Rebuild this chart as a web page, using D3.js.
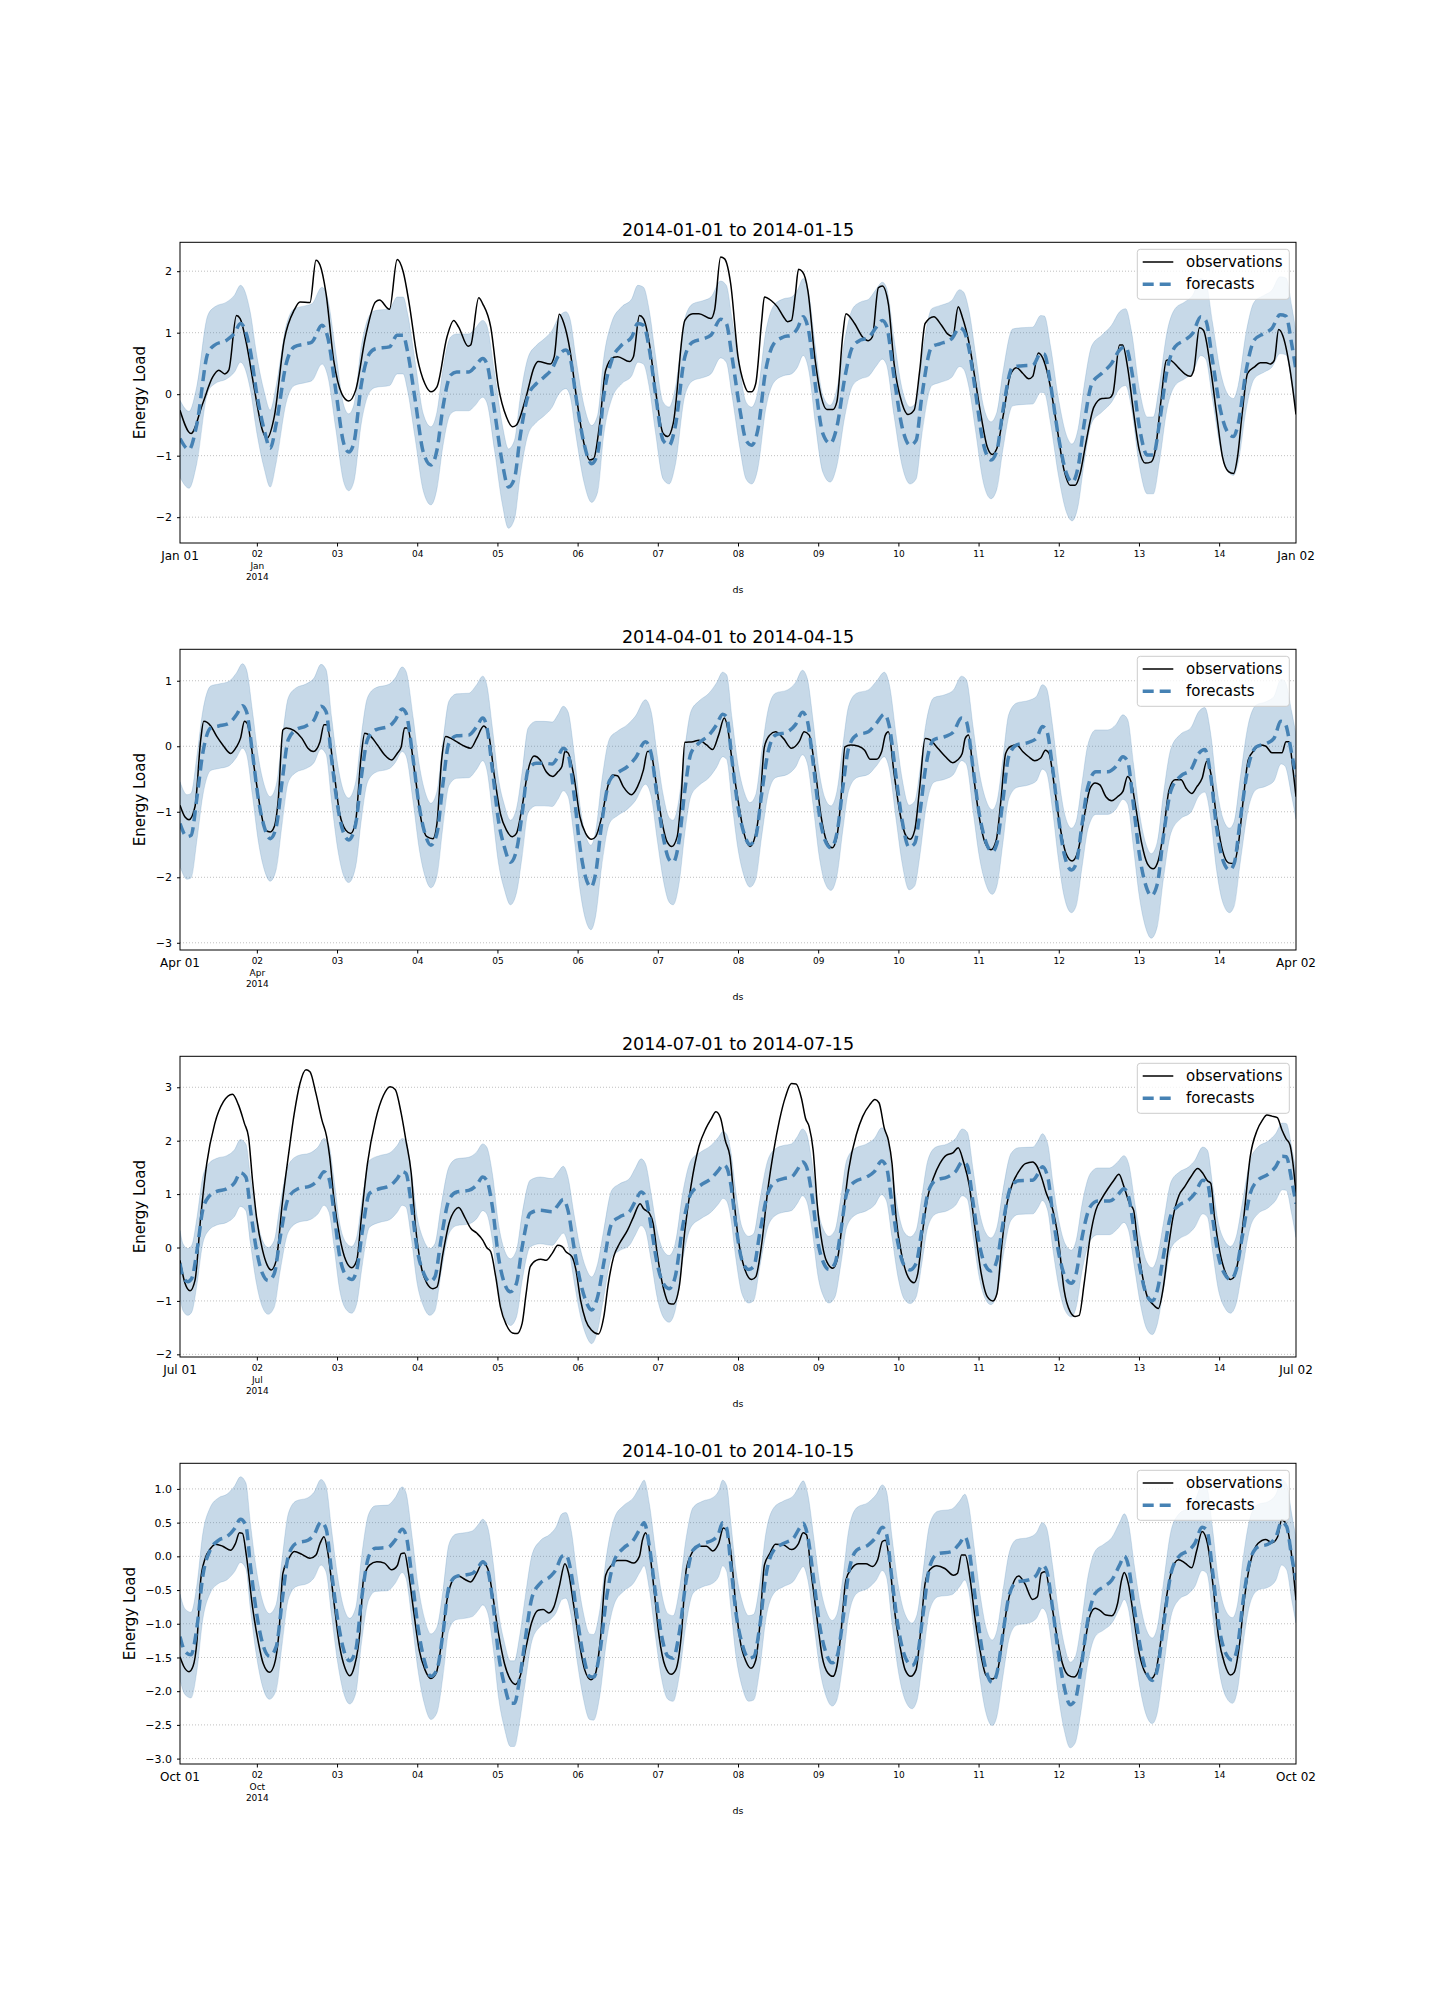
<!DOCTYPE html>
<html>
<head>
<meta charset="utf-8">
<script src="https://cdn.jsdelivr.net/npm/d3@7"></script>
<style>
  body { margin: 0; background: #ffffff; }
  svg { display: block; }
</style>
</head>
<body>
<svg id="chart" width="1440" height="2016"></svg>
<script>
// ---------------- DATA (hours since 00:00 on the 1st of the month) ----------------
const panelTitles = ["2014-01-01 to 2014-01-15", "2014-04-01 to 2014-04-15", "2014-07-01 to 2014-07-15", "2014-10-01 to 2014-10-15"];
const monthNames = ["Jan", "Apr", "Jul", "Oct"];
const yearLabel = "2014";
const xDomainHours = [1, 335];
const dayTickHours = [24, 48, 72, 96, 120, 144, 168, 192, 216, 240, 264, 288, 312];
const dayTickLabels = ["02", "03", "04", "05", "06", "07", "08", "09", "10", "11", "12", "13", "14"];
const legendLabels = ["observations", "forecasts"];
const yAxisLabel = "Energy Load";
const xAxisLabel = "ds";

const janYDomain = [-2.42, 2.47];
const aprYDomain = [-3.11, 1.48];
const julYDomain = [-2.05, 3.58];
const octYDomain = [-3.08, 1.38];
const janYTicks = [-2, -1, 0, 1, 2];
const aprYTicks = [-3, -2, -1, 0, 1];
const julYTicks = [-2, -1, 0, 1, 2, 3];
const octYTicks = [-3.0, -2.5, -2.0, -1.5, -1.0, -0.5, 0.0, 0.5, 1.0];

// observations: [hour, value]
const janObs = [[1,-0.26],[4.3,-0.64],[7.8,-0.15],[10.8,0.28],[12.6,0.39],[14.4,0.33],[15.6,0.39],[17.9,1.28],[19,1.23],[20.9,0.82],[23.3,0.07],[25.7,-0.59],[27,-0.72],[29.2,-0.37],[32.2,0.88],[35.2,1.37],[36.9,1.5],[39.9,1.49],[41.7,2.18],[42.9,2.1],[44.7,1.64],[47,0.55],[49.4,0.01],[51.5,-0.11],[53.6,0.07],[56.5,0.93],[59.5,1.5],[60.7,1.53],[63.7,1.38],[66,2.19],[67.8,1.99],[69.6,1.47],[72,0.6],[74.3,0.17],[76.1,0.04],[77.9,0.12],[80.9,0.93],[82.9,1.2],[84.4,1.09],[87.2,0.78],[88,0.8],[90.4,1.57],[91.6,1.47],[94,1.09],[96.3,0.12],[98.7,-0.37],[100.5,-0.53],[101.7,-0.5],[104.6,-0.04],[107,0.44],[108.2,0.53],[111.8,0.49],[113,0.61],[114.5,1.3],[115.9,1.15],[117.7,0.72],[119.5,0.01],[121.9,-0.8],[123.6,-1.07],[124.8,-1.05],[126.6,-0.48],[128.4,0.39],[130.8,0.6],[132,0.61],[135.5,0.53],[136.7,0.61],[138.5,1.28],[139.7,1.23],[141.5,0.82],[143.3,0.07],[145.6,-0.64],[147,-0.69],[148.6,-0.48],[152.1,1.2],[154.5,1.31],[156.3,1.31],[159.9,1.23],[161,1.37],[162.8,2.23],[164,2.2],[165.8,1.8],[168,0.61],[169.8,0.17],[171,0.04],[172.1,0.04],[173.3,0.17],[175.1,1.2],[175.9,1.58],[178,1.52],[179.8,1.42],[181.6,1.26],[182.8,1.18],[184,1.2],[185.2,1.64],[186.1,2.03],[187.3,1.99],[188.9,1.69],[191.1,0.55],[192.9,-0.04],[194.6,-0.25],[196.4,-0.25],[197.6,-0.12],[199.4,0.98],[200.3,1.31],[202.9,1.15],[205.3,0.93],[207,0.87],[208.2,0.93],[210,1.73],[211.2,1.76],[213,1.47],[214.7,0.5],[217.1,-0.15],[218.9,-0.33],[220.7,-0.26],[222.4,0.39],[224,1.15],[226.6,1.26],[228.9,1.12],[230.7,0.98],[232.3,0.94],[233.9,1.42],[235.1,1.26],[237.2,0.82],[239,0.23],[240.8,-0.37],[242.6,-0.86],[244.1,-0.98],[245.5,-0.88],[247.3,-0.37],[249.7,0.34],[251.4,0.43],[253.2,0.34],[255,0.25],[256.2,0.29],[257.9,0.67],[259.5,0.55],[261.5,0.12],[263.3,-0.48],[265.6,-1.24],[267.4,-1.48],[268.9,-1.48],[270.4,-1.29],[272.1,-0.8],[274.5,-0.21],[276.9,-0.07],[279.2,-0.06],[280.2,0.01],[282.2,0.8],[283.1,0.8],[284.6,0.44],[286.3,-0.26],[288.1,-0.91],[289.9,-1.12],[291.7,-1.1],[292.9,-0.91],[294.6,-0.1],[296.2,0.55],[297,0.56],[300,0.42],[301.7,0.33],[303.3,0.29],[304.4,0.39],[306.1,1.08],[307.3,1.04],[309.4,0.44],[311.2,-0.31],[313,-1.02],[314.8,-1.26],[316.3,-1.29],[317.5,-1.02],[318.9,-0.31],[320.5,0.34],[322.5,0.44],[324.3,0.51],[326.1,0.51],[327.3,0.49],[328.5,0.55],[329.8,1.05],[331,0.96],[333.1,0.44],[335,-0.33]];

const aprObs = [[1,-0.9],[2.5,-1.08],[3.7,-1.12],[5.5,-0.92],[7.2,0.1],[8.1,0.38],[10.2,0.31],[12,0.15],[13.8,0.02],[16.2,-0.11],[17.9,-0.01],[19.1,0.12],[20.3,0.38],[21.1,0.35],[23.3,-0.36],[25.1,-0.97],[26.6,-1.28],[28,-1.31],[29.2,-1.23],[30.4,-0.82],[31.8,0.25],[32.8,0.28],[35.2,0.24],[37.5,0.12],[39.3,-0.03],[40.9,-0.08],[42.9,0.07],[44.1,0.33],[44.9,0.33],[47,-0.36],[48.8,-1.03],[50.6,-1.28],[52.1,-1.33],[53.6,-1.13],[55.1,-0.21],[56.3,0.2],[57.7,0.17],[60.1,0.02],[62.2,-0.13],[64.3,-0.21],[66,-0.11],[67.2,-0.01],[68.2,0.28],[69,0.28],[71.4,-0.46],[73.2,-1.13],[74.9,-1.38],[76.7,-1.41],[77.9,-1.18],[79.3,-0.21],[80.5,0.15],[82.1,0.12],[84.4,0.05],[86.2,0],[88,-0.03],[89.8,0.12],[91.9,0.31],[93.3,0.2],[95.1,-0.46],[96.9,-1.03],[98.7,-1.28],[100.5,-1.38],[101.7,-1.33],[103.4,-0.92],[105.2,-0.36],[107,-0.15],[108.8,-0.21],[110.6,-0.39],[112.6,-0.46],[114.1,-0.39],[115.3,-0.31],[116.2,-0.08],[117.1,-0.1],[118.9,-0.46],[120.7,-1.08],[122.4,-1.33],[124.2,-1.42],[125.4,-1.38],[127.2,-1.08],[129,-0.62],[130.4,-0.44],[131.9,-0.45],[133.7,-0.62],[136.1,-0.74],[137.9,-0.62],[139.7,-0.36],[140.9,-0.08],[141.8,-0.08],[143.2,-0.46],[145,-1.08],[146.8,-1.46],[148.2,-1.53],[149.8,-1.38],[151,-0.77],[152.1,0.06],[154.5,0.07],[156.3,0.09],[158.6,0.02],[160.4,-0.05],[162.2,0.17],[163.9,0.43],[165,0.25],[166.2,-0.21],[168,-0.82],[169.8,-1.33],[171.6,-1.53],[173.1,-1.38],[174.5,-0.92],[175.9,-0.01],[177.5,0.17],[179.2,0.22],[181.6,0.12],[184,-0.03],[186.3,0.07],[187.8,0.22],[189.3,0.17],[191.1,-0.36],[192.9,-1.08],[194.6,-1.46],[196.2,-1.55],[197.6,-1.38],[198.8,-0.82],[200,-0.01],[201.7,0.02],[204.1,0],[205.9,-0.06],[207.6,-0.2],[209.4,-0.2],[211,-0.08],[212.1,0.17],[213,0.22],[214.7,-0.41],[216.5,-1.03],[218.3,-1.37],[219.5,-1.42],[220.9,-1.28],[222.4,-0.62],[224,0.12],[225.4,0.1],[227.8,-0.03],[230.1,-0.16],[232.3,-0.25],[233.7,-0.21],[235.1,-0.11],[236,0.12],[237,0.17],[238.4,-0.41],[240.2,-1.08],[242,-1.48],[243.7,-1.58],[245.3,-1.43],[246.7,-0.82],[248.1,-0.11],[249.7,0],[251.4,0.02],[253.2,-0.08],[255,-0.16],[256.8,-0.22],[258.6,-0.18],[260,-0.06],[261.1,-0.11],[262.7,-0.62],[264.4,-1.23],[266.2,-1.64],[268,-1.75],[269.8,-1.59],[271.6,-1.08],[273.4,-0.64],[274.9,-0.56],[276.3,-0.59],[278.1,-0.77],[279.9,-0.83],[281.6,-0.77],[283.2,-0.69],[284.6,-0.46],[285.8,-0.57],[287,-0.92],[288.8,-1.48],[290.5,-1.79],[292.3,-1.87],[293.8,-1.74],[295.3,-1.33],[297,-0.67],[298.8,-0.51],[300.6,-0.51],[302.1,-0.64],[303.8,-0.72],[305.3,-0.62],[306.9,-0.49],[308.3,-0.23],[309.5,-0.41],[311.2,-1.08],[313,-1.59],[314.8,-1.78],[316.3,-1.79],[317.8,-1.48],[319.2,-0.82],[320.7,-0.21],[322.5,-0.06],[324.3,0.02],[326,0],[327.8,-0.1],[330.8,-0.1],[332,0.07],[332.9,0.07],[334.1,-0.36],[335,-0.77]];

const julObs = [[1,-0.24],[2.5,-0.67],[4,-0.81],[5.5,-0.61],[7.2,0.57],[9,1.57],[11.4,2.32],[14,2.73],[16.7,2.87],[18.5,2.67],[20.3,2.32],[21.5,2.07],[22.7,1.26],[23.9,0.57],[25.7,-0.05],[27.1,-0.33],[28.3,-0.42],[29.8,-0.24],[31.6,0.82],[33.4,1.7],[35.2,2.51],[36.9,3.07],[38.7,3.33],[39.9,3.29],[41.7,2.88],[43.5,2.38],[44.9,2.07],[45.8,1.7],[47,0.95],[48.8,0.2],[50.6,-0.24],[52.4,-0.38],[53.9,-0.24],[55.3,0.57],[57.1,1.57],[59.5,2.38],[61.9,2.85],[63.9,3.01],[65.4,2.96],[67.2,2.51],[68.6,2.01],[70.2,1.39],[71.4,0.45],[73.2,-0.36],[74.9,-0.67],[76.7,-0.77],[77.9,-0.74],[79.7,-0.11],[81.5,0.45],[83.3,0.7],[84.4,0.75],[86.2,0.57],[88,0.36],[89.8,0.27],[91.6,0.14],[92.8,0],[94,-0.08],[95.5,-0.55],[96.9,-1.11],[98.7,-1.45],[100.5,-1.6],[101.9,-1.61],[103.4,-1.42],[104.6,-0.86],[105.8,-0.36],[107.6,-0.24],[109,-0.22],[110.6,-0.24],[112.4,-0.11],[114.1,0.04],[115.3,0.02],[116.5,-0.08],[118.3,-0.17],[119.5,-0.42],[120.9,-0.99],[122.4,-1.36],[124.2,-1.55],[126.2,-1.62],[127.8,-1.31],[129.2,-0.67],[130.8,-0.17],[132.5,0.07],[134.9,0.32],[136.7,0.57],[138.7,0.82],[139.7,0.73],[141.5,0.64],[142.6,0.45],[143.8,-0.11],[145.6,-0.74],[147.4,-1.05],[148.6,-1.06],[150.4,-0.74],[152.1,0.32],[153.9,1.14],[156.3,1.89],[158.4,2.23],[159.9,2.4],[161.4,2.54],[162.8,2.42],[164.2,2.0],[165.6,1.7],[166.8,0.9],[168,0.2],[169.8,-0.36],[172.1,-0.6],[173.3,-0.55],[175.1,0.07],[176.9,1.07],[178.7,1.82],[180.4,2.38],[182.2,2.82],[184,3.07],[185.4,3.06],[187,2.79],[188.2,2.42],[189.3,2.26],[190.5,1.82],[191.7,0.82],[193.2,0.07],[194.6,-0.27],[196.4,-0.39],[197.9,-0.17],[199.4,0.57],[201.1,1.45],[203.5,2.13],[205.3,2.45],[207.4,2.67],[209,2.77],[210.2,2.71],[211.8,2.23],[213,2.01],[214.1,1.57],[215.3,0.57],[217.1,-0.17],[218.9,-0.55],[220.7,-0.66],[221.8,-0.49],[223.3,0.32],[224.8,0.95],[226.6,1.32],[228.4,1.57],[230.4,1.73],[232.3,1.77],[233.9,1.87],[235.5,1.6],[237.2,1.17],[239,0.32],[240.8,-0.49],[242.6,-0.92],[244.3,-1.0],[245.5,-0.86],[246.9,0.01],[248.5,0.82],[250.2,1.2],[252,1.42],[254,1.57],[256.2,1.6],[257.3,1.54],[258.8,1.32],[260.3,1.01],[262.1,0.73],[263.9,0.14],[265.6,-0.8],[267.4,-1.2],[268.9,-1.29],[270.1,-1.27],[271.6,-0.67],[273.4,0.2],[275.1,0.7],[276.9,0.92],[278.7,1.1],[280.5,1.26],[282,1.37],[283.5,1.14],[285.2,0.82],[286.4,0.7],[287.6,0.07],[289.1,-0.55],[290.5,-0.92],[292.3,-1.07],[293.8,-1.14],[295.3,-0.74],[296.7,-0.05],[298.2,0.57],[300,0.98],[301.7,1.14],[303.5,1.32],[305.6,1.48],[307.1,1.39],[308.5,1.25],[309.5,1.2],[310.6,0.57],[312.1,-0.05],[313.6,-0.42],[315.4,-0.6],[316.5,-0.55],[317.7,-0.24],[319.5,0.64],[321.3,1.7],[323.4,2.2],[324.9,2.38],[326.3,2.48],[327.8,2.46],[329.4,2.43],[330.8,2.2],[332,2.04],[333.2,1.92],[334.1,1.57],[335,1.01]];

const octObs = [[1,-1.49],[2.1,-1.63],[3.7,-1.71],[4.9,-1.63],[6.1,-1.24],[7.2,-0.35],[8.4,-0.05],[10.2,0.12],[11.6,0.18],[13.8,0.15],[16.2,0.09],[17.6,0.19],[18.8,0.35],[19.7,0.34],[20.9,0],[22.7,-0.75],[24.5,-1.29],[25.9,-1.59],[27.8,-1.72],[29.2,-1.61],[30.6,-1.14],[31.8,-0.25],[33.4,-0.05],[35.2,0.07],[37.5,0.03],[39.9,-0.03],[41.7,0.02],[42.9,0.19],[44.1,0.29],[45.3,0.04],[47,-0.65],[48.8,-1.34],[50.4,-1.66],[51.8,-1.77],[53.2,-1.63],[54.8,-1.14],[55.9,-0.35],[57.7,-0.13],[59.9,-0.08],[62.2,-0.1],[64.3,-0.2],[66,-0.14],[67.2,0.04],[68.2,0.05],[69.4,-0.25],[71,-0.84],[72.6,-1.39],[74.3,-1.68],[76.1,-1.81],[77.7,-1.73],[79.1,-1.34],[80.9,-0.65],[82.7,-0.35],[84.4,-0.29],[86.2,-0.34],[88,-0.38],[89.8,-0.25],[91.6,-0.09],[93.1,-0.18],[94.5,-0.55],[96.3,-1.14],[98.1,-1.59],[99.9,-1.83],[101.4,-1.9],[102.8,-1.78],[104.6,-1.34],[106.2,-0.99],[108.2,-0.8],[109.7,-0.79],[111.4,-0.84],[112.9,-0.75],[114.5,-0.45],[116.2,-0.11],[117.3,-0.25],[118.9,-0.75],[120.7,-1.34],[122.1,-1.68],[124,-1.83],[125.4,-1.73],[126.8,-1.24],[128.4,-0.28],[130.2,-0.13],[131.9,-0.06],[134.3,-0.06],[136.7,-0.1],[138.5,0],[139.4,0.24],[140.4,0.35],[141.5,0.09],[143,-0.55],[144.4,-1.19],[146.2,-1.63],[148,-1.75],[149.4,-1.68],[151,-1.19],[152.5,-0.2],[153.9,0.02],[156.3,0.15],[158.6,0.15],[160.4,0.08],[162.2,0.19],[163.6,0.42],[164.6,0.38],[165.8,0.09],[167.2,-0.65],[168.6,-1.24],[170.4,-1.56],[171.9,-1.66],[173.3,-1.54],[174.5,-1.04],[175.9,-0.13],[177.5,0.04],[179.2,0.18],[181.6,0.17],[184,0.1],[186.1,0.19],[187.5,0.35],[188.5,0.32],[189.9,-0.25],[191.7,-0.94],[193.2,-1.49],[194.9,-1.73],[196.4,-1.78],[197.6,-1.63],[198.8,-1.14],[200.3,-0.35],[202,-0.18],[204.1,-0.11],[206.3,-0.11],[208.2,-0.15],[209.8,-0.05],[211.2,0.22],[212.1,0.24],[213.3,-0.05],[214.7,-0.75],[216.5,-1.34],[218,-1.68],[219.7,-1.78],[221.3,-1.68],[222.4,-1.24],[224,-0.4],[225.4,-0.2],[227.5,-0.14],[229.9,-0.18],[232.5,-0.28],[233.7,-0.25],[234.9,0.02],[236,0.02],[237.5,-0.35],[239,-0.94],[240.8,-1.49],[242.2,-1.76],[244.1,-1.82],[245.5,-1.73],[246.9,-1.34],[248.5,-0.75],[250,-0.45],[252,-0.29],[253.8,-0.4],[256.2,-0.64],[257.6,-0.6],[258.8,-0.25],[260,-0.23],[261.5,-0.6],[263.3,-1.14],[265.1,-1.59],[266.8,-1.76],[268.6,-1.79],[270.1,-1.68],[271.6,-1.34],[273.4,-0.87],[274.9,-0.77],[276.3,-0.8],[278.1,-0.87],[279.9,-0.88],[281.6,-0.7],[282.8,-0.35],[283.6,-0.24],[284.8,-0.4],[286.4,-0.89],[288.1,-1.44],[289.9,-1.73],[291.7,-1.81],[292.9,-1.73],[294.3,-1.34],[295.8,-0.75],[297.6,-0.25],[299.8,-0.05],[301.8,-0.1],[303.8,-0.17],[305.3,0.09],[306.9,0.37],[308.5,0.19],[310.1,-0.4],[311.8,-1.19],[313.6,-1.59],[315.4,-1.76],[316.5,-1.72],[318,-1.34],[319.5,-0.65],[321.3,-0.1],[323.6,0.19],[326,0.25],[327.8,0.2],[329.5,0.29],[330.7,0.54],[331.7,0.51],[333.1,0.24],[335,-0.65]];

// forecasts: [hour, yhat, lower, upper]
const janFc = [[1,-0.72,-1.35,-0.10],[3.7,-0.9,-1.53,-0.28],[6,-0.5,-1.13,0.12],[9.3,0.66,0.03,1.28],[11.4,0.8,0.17,1.42],[15,0.88,0.25,1.50],[17.3,0.99,0.36,1.61],[19.1,1.15,0.52,1.77],[22,0.72,0.09,1.34],[24,0,-0.63,0.62],[26.2,-0.58,-1.21,0.04],[28,-0.88,-1.51,-0.26],[29.8,-0.48,-1.11,0.14],[32.8,0.5,-0.13,1.12],[35.2,0.77,0.14,1.39],[38.7,0.82,0.19,1.44],[40.5,0.85,0.22,1.47],[43.5,1.12,0.49,1.74],[45.2,0.93,0.30,1.55],[47.6,0.07,-0.56,0.69],[50,-0.8,-1.43,-0.18],[51.5,-0.94,-1.57,-0.32],[53,-0.8,-1.43,-0.18],[55.3,0.17,-0.46,0.79],[57.7,0.66,0.03,1.28],[59.5,0.74,0.11,1.36],[63.7,0.77,0.14,1.39],[66,0.96,0.33,1.58],[67.8,0.96,0.33,1.58],[69,0.72,0.09,1.34],[71.4,-0.1,-0.73,0.52],[73.8,-0.94,-1.57,-0.32],[76.1,-1.15,-1.80,-0.53],[77.9,-0.91,-1.54,-0.29],[79.7,-0.21,-0.84,0.41],[82,0.31,-0.32,0.93],[83.8,0.36,-0.27,0.98],[87.4,0.36,-0.27,0.98],[89.2,0.44,-0.19,1.06],[91.6,0.58,-0.05,1.20],[92.8,0.5,-0.13,1.12],[95.1,-0.26,-0.90,0.36],[97.5,-1.13,-1.80,-0.51],[99.3,-1.51,-2.18,-0.89],[101.1,-1.37,-2.03,-0.75],[102.8,-0.69,-1.34,-0.07],[105.2,-0.02,-0.65,0.60],[107.6,0.17,-0.46,0.79],[110,0.28,-0.35,0.90],[112.4,0.42,-0.21,1.04],[114.1,0.61,-0.02,1.23],[116.5,0.72,0.09,1.34],[117.7,0.61,-0.02,1.23],[119.5,-0.04,-0.67,0.58],[121.9,-0.8,-1.43,-0.18],[124.2,-1.13,-1.76,-0.51],[126,-0.96,-1.59,-0.34],[127.8,-0.04,-0.67,0.58],[130.2,0.55,-0.08,1.17],[133.2,0.8,0.17,1.42],[136.2,0.93,0.30,1.55],[138,1.15,0.52,1.77],[139.7,1.12,0.49,1.74],[141.5,0.72,0.09,1.34],[143.3,0.01,-0.62,0.63],[145.6,-0.75,-1.38,-0.13],[147.4,-0.83,-1.46,-0.21],[149.2,-0.53,-1.16,0.09],[152.1,0.61,-0.02,1.23],[154.5,0.85,0.22,1.47],[157.5,0.9,0.27,1.52],[159.9,0.96,0.33,1.58],[162.8,1.22,0.59,1.84],[164.5,1.15,0.52,1.77],[166.2,0.61,-0.02,1.23],[168.6,-0.26,-0.89,0.36],[170.4,-0.75,-1.38,-0.13],[172.1,-0.83,-1.46,-0.21],[173.9,-0.59,-1.22,0.03],[176.3,0.39,-0.24,1.01],[178.7,0.82,0.19,1.44],[181.6,0.93,0.30,1.55],[184,0.96,0.33,1.58],[185.8,1.07,0.44,1.69],[187.5,1.26,0.63,1.88],[189.3,0.98,0.35,1.60],[191.1,0.17,-0.46,0.79],[193.4,-0.64,-1.27,-0.02],[195.6,-0.8,-1.43,-0.18],[197.6,-0.53,-1.16,0.09],[200,0.28,-0.35,0.90],[202.3,0.77,0.14,1.39],[204.7,0.88,0.25,1.50],[207,0.92,0.29,1.54],[209.4,1.09,0.46,1.71],[211.2,1.2,0.57,1.82],[212.4,1.12,0.49,1.74],[214.7,0.28,-0.35,0.90],[217.1,-0.53,-1.16,0.09],[219.5,-0.83,-1.46,-0.21],[221.3,-0.75,-1.38,-0.13],[223,-0.04,-0.67,0.58],[226,0.77,0.14,1.39],[228.4,0.82,0.19,1.44],[231.9,0.9,0.27,1.52],[234.3,1.08,0.45,1.70],[235.5,1.04,0.41,1.66],[237.2,0.72,0.09,1.34],[239,0.07,-0.56,0.69],[241.4,-0.8,-1.43,-0.18],[243.7,-1.07,-1.70,-0.45],[245.5,-0.91,-1.54,-0.29],[247.3,-0.26,-0.89,0.36],[250.2,0.44,-0.19,1.06],[252.6,0.46,-0.17,1.08],[256.2,0.47,-0.16,1.09],[258.6,0.66,0.03,1.28],[259.7,0.65,0.02,1.27],[261.5,0.17,-0.46,0.79],[263.9,-0.69,-1.32,-0.07],[266.3,-1.29,-1.92,-0.67],[268,-1.43,-2.06,-0.81],[269.8,-1.18,-1.81,-0.56],[271.6,-0.48,-1.11,0.14],[273.9,0.17,-0.46,0.79],[276.9,0.34,-0.29,0.96],[279.8,0.5,-0.13,1.12],[282.2,0.72,0.09,1.34],[284,0.77,0.14,1.39],[285.8,0.39,-0.24,1.01],[288.1,-0.53,-1.16,0.09],[290.5,-0.99,-1.62,-0.37],[292.3,-0.99,-1.62,-0.37],[294.1,-0.48,-1.11,0.14],[296.4,0.39,-0.24,1.01],[298.8,0.77,0.14,1.39],[301.7,0.88,0.25,1.50],[304.1,0.99,0.36,1.61],[306.5,1.26,0.63,1.88],[308,1.2,0.57,1.82],[310,0.55,-0.08,1.17],[312.4,-0.26,-0.89,0.36],[314.8,-0.64,-1.27,-0.02],[316.3,-0.69,-1.32,-0.07],[317.7,-0.48,-1.11,0.14],[320.1,0.39,-0.24,1.01],[322.5,0.88,0.25,1.50],[325.5,0.99,0.36,1.61],[327.8,1.07,0.44,1.69],[330.2,1.29,0.66,1.91],[332,1.27,0.64,1.89],[333.7,0.82,0.19,1.44],[335,0.39,-0.24,1.01]];

const aprFc = [[1,-1.18,-1.83,-0.54],[3.1,-1.38,-2.03,-0.74],[4.3,-1.36,-2.01,-0.72],[6.1,-0.77,-1.42,-0.13],[7.8,-0.11,-0.76,0.53],[10.2,0.28,-0.37,0.92],[12.6,0.31,-0.34,0.95],[15.6,0.35,-0.30,0.99],[17.9,0.48,-0.17,1.12],[19.7,0.62,-0.03,1.26],[20.9,0.53,-0.12,1.17],[22.7,-0.11,-0.76,0.53],[24.5,-0.82,-1.47,-0.18],[26.2,-1.23,-1.88,-0.59],[28,-1.41,-2.06,-0.77],[29.8,-1.23,-1.88,-0.59],[31.6,-0.52,-1.17,0.12],[33.4,0.1,-0.55,0.74],[35.7,0.25,-0.40,0.89],[38.7,0.31,-0.34,0.95],[41.1,0.4,-0.25,1.04],[43.2,0.61,-0.04,1.25],[44.7,0.53,-0.12,1.17],[46.4,-0.21,-0.86,0.43],[48.2,-0.92,-1.57,-0.28],[50,-1.33,-1.98,-0.69],[51.5,-1.43,-2.08,-0.79],[53.6,-1.18,-1.83,-0.54],[55.3,-0.46,-1.11,0.18],[57.1,0.1,-0.55,0.74],[59.5,0.25,-0.40,0.89],[63.7,0.31,-0.34,0.95],[65.4,0.4,-0.25,1.04],[67.5,0.57,-0.08,1.21],[68.6,0.51,-0.14,1.15],[70.8,-0.21,-0.86,0.43],[72.6,-0.92,-1.57,-0.28],[74.3,-1.33,-1.98,-0.69],[76.1,-1.51,-2.16,-0.87],[77.9,-1.33,-1.98,-0.69],[79.7,-0.57,-1.22,0.07],[81.5,0.05,-0.60,0.69],[83.8,0.16,-0.49,0.80],[87.4,0.17,-0.48,0.81],[89.8,0.3,-0.35,0.94],[91.6,0.43,-0.22,1.07],[92.8,0.3,-0.35,0.94],[94.5,-0.36,-1.01,0.28],[96.3,-1.13,-1.78,-0.49],[98.1,-1.54,-2.19,-0.90],[99.9,-1.77,-2.42,-1.13],[101.7,-1.59,-2.24,-0.95],[103.4,-1.03,-1.68,-0.39],[105.2,-0.36,-1.01,0.28],[107.6,-0.26,-0.91,0.38],[110,-0.26,-0.91,0.38],[112.4,-0.27,-0.92,0.37],[114.1,-0.16,-0.81,0.48],[115.7,-0.03,-0.68,0.61],[117.1,-0.11,-0.76,0.53],[118.9,-0.72,-1.37,-0.08],[120.7,-1.54,-2.19,-0.90],[122.4,-2.0,-2.65,-1.36],[124,-2.15,-2.80,-1.51],[125.4,-1.94,-2.59,-1.30],[127.2,-1.18,-1.83,-0.54],[129.6,-0.52,-1.17,0.12],[131.9,-0.41,-1.06,0.23],[134.9,-0.31,-0.96,0.33],[137.3,-0.18,-0.83,0.46],[140.3,0.07,-0.58,0.71],[142,-0.11,-0.76,0.53],[143.8,-0.77,-1.42,-0.13],[145.6,-1.38,-2.03,-0.74],[147.4,-1.73,-2.38,-1.09],[148.6,-1.77,-2.42,-1.13],[150.4,-1.43,-2.08,-0.79],[152.1,-0.67,-1.32,-0.03],[153.9,-0.11,-0.76,0.53],[156.3,0.05,-0.60,0.69],[159.3,0.17,-0.48,0.81],[161.6,0.33,-0.32,0.97],[163.4,0.49,-0.16,1.13],[164.6,0.45,-0.20,1.09],[166.2,-0.21,-0.86,0.43],[168,-0.92,-1.57,-0.28],[169.8,-1.33,-1.98,-0.69],[171.6,-1.5,-2.15,-0.86],[173.3,-1.38,-2.03,-0.74],[175.1,-0.72,-1.37,-0.08],[176.9,-0.11,-0.76,0.53],[179.2,0.17,-0.48,0.81],[182.8,0.22,-0.43,0.86],[185.2,0.33,-0.32,0.97],[187.3,0.52,-0.13,1.16],[188.7,0.4,-0.25,1.04],[190.5,-0.26,-0.91,0.38],[192.3,-1.03,-1.68,-0.39],[194,-1.43,-2.08,-0.79],[195.8,-1.55,-2.20,-0.91],[197.6,-1.33,-1.98,-0.69],[199.4,-0.62,-1.27,0.02],[201.1,-0.03,-0.68,0.61],[203.5,0.17,-0.48,0.81],[207,0.22,-0.43,0.86],[209.4,0.35,-0.30,0.99],[211.8,0.49,-0.16,1.13],[213.3,0.3,-0.35,0.94],[215.3,-0.46,-1.11,0.18],[217.1,-1.13,-1.78,-0.49],[219.2,-1.54,-2.19,-0.90],[220.9,-1.48,-2.13,-0.84],[222.4,-1.03,-1.68,-0.39],[224.2,-0.31,-0.96,0.33],[226.6,0.1,-0.55,0.74],[230.1,0.15,-0.50,0.79],[232.5,0.22,-0.43,0.86],[234.9,0.43,-0.22,1.07],[236.3,0.38,-0.27,1.02],[238.4,-0.36,-1.01,0.28],[240.2,-1.03,-1.68,-0.39],[242,-1.43,-2.08,-0.79],[244.1,-1.61,-2.26,-0.97],[245.5,-1.48,-2.13,-0.84],[247.3,-0.82,-1.47,-0.18],[249,-0.16,-0.81,0.48],[251.4,0.02,-0.63,0.66],[255,0.06,-0.59,0.70],[257.3,0.12,-0.53,0.76],[259.1,0.3,-0.35,0.94],[260.3,0.25,-0.40,0.89],[262.1,-0.31,-0.96,0.33],[263.9,-1.08,-1.73,-0.44],[265.6,-1.64,-2.29,-1.00],[267.8,-1.89,-2.54,-1.25],[269.2,-1.79,-2.44,-1.15],[271,-1.18,-1.83,-0.54],[272.7,-0.62,-1.27,0.02],[275.1,-0.39,-1.04,0.25],[278.7,-0.39,-1.04,0.25],[281.1,-0.31,-0.96,0.33],[283.2,-0.16,-0.81,0.48],[284.6,-0.23,-0.88,0.41],[286.4,-0.92,-1.57,-0.28],[288.1,-1.64,-2.29,-1.00],[289.9,-2.1,-2.75,-1.46],[291.7,-2.28,-2.93,-1.64],[293.5,-2.1,-2.75,-1.46],[295.3,-1.38,-2.03,-0.74],[297.6,-0.67,-1.32,-0.03],[300.6,-0.45,-1.10,0.19],[303.5,-0.36,-1.01,0.28],[305.9,-0.11,-0.76,0.53],[307.7,-0.05,-0.70,0.59],[309.5,-0.46,-1.11,0.18],[311.2,-1.23,-1.88,-0.59],[313,-1.72,-2.37,-1.08],[315.1,-1.89,-2.54,-1.25],[316.5,-1.79,-2.44,-1.15],[318.3,-1.13,-1.78,-0.49],[320.7,-0.31,-0.96,0.33],[323.1,-0.01,-0.66,0.63],[326,0.04,-0.61,0.68],[328.4,0.12,-0.53,0.76],[330.5,0.38,-0.27,1.02],[331.7,0.35,-0.30,0.99],[333.7,-0.11,-0.76,0.53],[335,-0.46,-1.11,0.18]];

const julFc = [[1,-0.3,-0.93,0.32],[1.9,-0.55,-1.18,0.07],[3.3,-0.64,-1.27,-0.02],[4.5,-0.58,-1.21,0.04],[6.1,-0.05,-0.68,0.57],[7.8,0.7,0.07,1.32],[9.6,0.95,0.32,1.57],[12,1.05,0.42,1.67],[15,1.1,0.47,1.72],[17.3,1.21,0.58,1.83],[19.1,1.4,0.77,2.02],[20.7,1.32,0.69,1.94],[22.1,0.7,0.07,1.32],[23.9,-0.05,-0.68,0.57],[25.7,-0.49,-1.12,0.13],[27.4,-0.62,-1.25,0.00],[29.2,-0.49,-1.12,0.13],[31,0.2,-0.43,0.82],[33.4,0.92,0.29,1.54],[36.3,1.1,0.47,1.72],[39.9,1.15,0.52,1.77],[42.3,1.26,0.63,1.88],[44.1,1.42,0.79,2.04],[45.6,1.29,0.66,1.91],[47,0.7,0.07,1.32],[48.8,-0.17,-0.80,0.45],[50.6,-0.52,-1.15,0.10],[52.4,-0.6,-1.23,0.02],[53.9,-0.42,-1.05,0.20],[55.6,0.32,-0.31,0.94],[57.7,1.01,0.38,1.63],[60.7,1.1,0.47,1.72],[63.7,1.15,0.52,1.77],[66,1.29,0.66,1.91],[67.5,1.42,0.79,2.04],[68.6,1.39,0.76,2.01],[70.2,0.82,0.19,1.44],[72,-0.05,-0.68,0.57],[73.8,-0.46,-1.09,0.16],[75.8,-0.64,-1.27,-0.02],[77.3,-0.55,-1.18,0.07],[79.1,0.14,-0.49,0.76],[81.5,0.89,0.26,1.51],[83.8,1.04,0.41,1.66],[87.4,1.07,0.44,1.69],[89.8,1.17,0.54,1.79],[91.6,1.32,0.69,1.94],[92.8,1.26,0.63,1.88],[94.5,0.76,0.13,1.38],[96.3,-0.17,-0.80,0.45],[98.1,-0.67,-1.30,-0.05],[99.9,-0.83,-1.46,-0.21],[101.7,-0.67,-1.30,-0.05],[103.4,0.01,-0.62,0.63],[105.8,0.64,0.01,1.26],[108.8,0.7,0.07,1.32],[112.4,0.67,0.04,1.29],[114.1,0.79,0.16,1.41],[115.7,0.9,0.27,1.52],[117.1,0.7,0.07,1.32],[118.9,0.01,-0.62,0.63],[120.7,-0.61,-1.24,0.01],[122.4,-0.99,-1.62,-0.37],[124.2,-1.17,-1.80,-0.55],[126,-0.92,-1.55,-0.30],[127.8,-0.3,-0.93,0.32],[130.2,0.45,-0.18,1.07],[132.5,0.57,-0.06,1.19],[135.5,0.67,0.04,1.29],[137.3,0.87,0.24,1.49],[139,1.04,0.41,1.66],[140.3,0.95,0.32,1.57],[142,0.39,-0.24,1.01],[143.8,-0.3,-0.93,0.32],[145.6,-0.67,-1.30,-0.05],[147.4,-0.77,-1.40,-0.15],[149.2,-0.55,-1.18,0.07],[151.6,0.45,-0.18,1.07],[153.9,1.01,0.38,1.63],[156.9,1.17,0.54,1.79],[159.9,1.29,0.66,1.91],[162.2,1.45,0.82,2.07],[163.5,1.55,0.92,2.17],[164.6,1.5,0.87,2.12],[165.8,1.2,0.57,1.82],[167.3,0.45,-0.18,1.07],[169.2,-0.24,-0.87,0.38],[171.2,-0.41,-1.04,0.21],[172.7,-0.36,-0.99,0.26],[174.5,0.26,-0.37,0.88],[176.9,1.01,0.38,1.63],[179.2,1.23,0.60,1.85],[181.6,1.29,0.66,1.91],[184,1.32,0.69,1.94],[185.8,1.46,0.83,2.08],[187.3,1.6,0.97,2.22],[188.5,1.51,0.88,2.13],[190.2,0.95,0.32,1.57],[192,0.07,-0.56,0.69],[193.7,-0.3,-0.93,0.32],[195.2,-0.41,-1.04,0.21],[197,-0.3,-0.93,0.32],[198.8,0.32,-0.31,0.94],[200.5,1.01,0.38,1.63],[202.9,1.23,0.60,1.85],[206.5,1.32,0.69,1.94],[208.8,1.42,0.79,2.04],[211,1.62,0.99,2.24],[212.4,1.51,0.88,2.13],[214.1,0.82,0.19,1.44],[215.9,0.07,-0.56,0.69],[217.7,-0.33,-0.96,0.29],[219.5,-0.42,-1.05,0.20],[221.3,-0.3,-0.93,0.32],[223,0.32,-0.31,0.94],[224.8,1.01,0.38,1.63],[227.2,1.26,0.63,1.88],[230.7,1.32,0.69,1.94],[233.1,1.42,0.79,2.04],[235.1,1.6,0.97,2.22],[236.6,1.54,0.91,2.16],[238.4,0.82,0.19,1.44],[240.2,0.07,-0.56,0.69],[242,-0.33,-0.96,0.29],[243.7,-0.44,-1.07,0.18],[245.5,-0.24,-0.87,0.38],[247.3,0.45,-0.18,1.07],[249.7,1.14,0.51,1.76],[252,1.25,0.62,1.87],[256.2,1.26,0.63,1.88],[257.9,1.39,0.76,2.01],[259.1,1.51,0.88,2.13],[260.7,1.32,0.69,1.94],[262.3,0.57,-0.06,1.19],[264.2,-0.17,-0.80,0.45],[265.9,-0.55,-1.18,0.07],[267.8,-0.67,-1.30,-0.05],[269.2,-0.49,-1.12,0.13],[271,0.2,-0.43,0.82],[273.4,0.76,0.13,1.38],[275.7,0.87,0.24,1.49],[279.2,0.87,0.24,1.49],[281.6,0.98,0.35,1.60],[283.5,1.1,0.47,1.72],[284.9,0.95,0.32,1.57],[286.8,0.2,-0.43,0.82],[288.4,-0.42,-1.05,0.20],[290.3,-0.89,-1.52,-0.27],[292,-1.0,-1.63,-0.38],[293.5,-0.8,-1.43,-0.18],[295.3,-0.17,-0.80,0.45],[297.6,0.61,-0.02,1.23],[300,0.79,0.16,1.41],[302.9,0.89,0.26,1.51],[304.7,1.01,0.38,1.63],[307.1,1.26,0.63,1.88],[308.5,1.2,0.57,1.82],[310,0.57,-0.06,1.19],[311.8,-0.17,-0.80,0.45],[313.6,-0.49,-1.12,0.13],[315.4,-0.6,-1.23,0.02],[317.1,-0.42,-1.05,0.20],[318.9,0.2,-0.43,0.82],[321.3,1.01,0.38,1.63],[323.6,1.26,0.63,1.88],[326.6,1.37,0.74,1.99],[328.9,1.51,0.88,2.13],[330.9,1.71,1.08,2.33],[332.1,1.7,1.07,2.32],[333.7,1.26,0.63,1.88],[335,0.82,0.19,1.44]];

const octFc = [[1,-1.19,-1.83,-0.56],[2.5,-1.41,-2.05,-0.78],[4.3,-1.46,-2.10,-0.83],[6.1,-1.04,-1.68,-0.41],[7.8,-0.3,-0.94,0.33],[10,0.09,-0.55,0.72],[12.6,0.24,-0.40,0.87],[15,0.29,-0.35,0.92],[17.3,0.41,-0.23,1.04],[19.1,0.55,-0.09,1.18],[20.7,0.46,-0.18,1.09],[22.1,-0.15,-0.79,0.48],[23.9,-0.84,-1.48,-0.21],[25.7,-1.29,-1.93,-0.66],[27.8,-1.48,-2.12,-0.85],[29.8,-1.34,-1.98,-0.71],[31.6,-0.65,-1.29,-0.02],[33.4,0,-0.64,0.63],[35.7,0.19,-0.45,0.82],[39.3,0.24,-0.40,0.87],[41.1,0.32,-0.32,0.95],[43.2,0.51,-0.13,1.14],[44.7,0.41,-0.23,1.04],[46.4,-0.25,-0.89,0.38],[48.2,-0.94,-1.58,-0.31],[50,-1.39,-2.03,-0.76],[51.8,-1.55,-2.19,-0.92],[53.6,-1.39,-2.03,-0.76],[55.3,-0.65,-1.29,-0.02],[57.5,0,-0.64,0.63],[59.5,0.12,-0.52,0.75],[63.1,0.13,-0.51,0.76],[65.4,0.24,-0.40,0.87],[67.5,0.4,-0.24,1.03],[68.6,0.32,-0.32,0.95],[70.5,-0.35,-0.99,0.28],[72.2,-1.04,-1.68,-0.41],[74.1,-1.54,-2.18,-0.91],[76.1,-1.78,-2.42,-1.15],[77.9,-1.68,-2.32,-1.05],[79.7,-1.14,-1.78,-0.51],[81.5,-0.45,-1.09,0.18],[83.6,-0.3,-0.94,0.33],[86.2,-0.28,-0.92,0.35],[88.6,-0.25,-0.89,0.38],[90.4,-0.15,-0.79,0.48],[91.6,-0.08,-0.72,0.55],[93.1,-0.2,-0.84,0.43],[94.8,-0.75,-1.39,-0.12],[96.3,-1.44,-2.08,-0.81],[98.1,-1.91,-2.55,-1.28],[99.9,-2.18,-2.82,-1.55],[101.1,-2.18,-2.82,-1.55],[102.6,-1.83,-2.47,-1.20],[104.3,-1.24,-1.88,-0.61],[106.4,-0.6,-1.24,0.03],[108.8,-0.4,-1.04,0.23],[111.8,-0.3,-0.94,0.33],[113.5,-0.2,-0.84,0.43],[115.3,0,-0.64,0.63],[116.5,0.02,-0.62,0.65],[118.1,-0.25,-0.89,0.38],[119.8,-0.89,-1.53,-0.26],[121.6,-1.44,-2.08,-0.81],[123.6,-1.78,-2.42,-1.15],[124.8,-1.79,-2.43,-1.16],[126.6,-1.44,-2.08,-0.81],[128.7,-0.6,-1.24,0.03],[131.1,-0.05,-0.69,0.58],[133.7,0.12,-0.52,0.75],[136.7,0.24,-0.40,0.87],[138.7,0.41,-0.23,1.04],[139.9,0.5,-0.14,1.13],[141.5,0.14,-0.50,0.77],[143.3,-0.55,-1.19,0.08],[145,-1.14,-1.78,-0.51],[147,-1.48,-2.12,-0.85],[148.6,-1.51,-2.15,-0.88],[150.4,-1.14,-1.78,-0.51],[152.5,-0.35,-0.99,0.28],[154.5,0.09,-0.55,0.72],[157.5,0.19,-0.45,0.82],[160.4,0.24,-0.40,0.87],[162.2,0.34,-0.30,0.97],[163.4,0.5,-0.14,1.13],[164.6,0.42,-0.22,1.05],[165.8,-0.1,-0.74,0.53],[167.4,-0.84,-1.48,-0.21],[169.2,-1.29,-1.93,-0.66],[171.2,-1.51,-2.15,-0.88],[172.7,-1.49,-2.13,-0.86],[174.5,-1.04,-1.68,-0.41],[176.3,-0.3,-0.94,0.33],[178.7,0.09,-0.55,0.72],[181.6,0.19,-0.45,0.82],[184.6,0.27,-0.37,0.90],[186.3,0.41,-0.23,1.04],[187.5,0.49,-0.15,1.12],[188.9,0.29,-0.35,0.92],[190.8,-0.4,-1.04,0.23],[192.5,-1.04,-1.68,-0.41],[194.4,-1.44,-2.08,-0.81],[196.2,-1.58,-2.22,-0.95],[197.6,-1.49,-2.13,-0.86],[199.4,-0.94,-1.58,-0.31],[201.1,-0.25,-0.89,0.38],[203.5,0.09,-0.55,0.72],[207,0.17,-0.47,0.80],[209.4,0.29,-0.35,0.92],[211.2,0.43,-0.21,1.06],[212.4,0.34,-0.30,0.97],[214.1,-0.35,-0.99,0.28],[215.9,-1.04,-1.68,-0.41],[218,-1.49,-2.13,-0.86],[220.1,-1.62,-2.26,-0.99],[221.6,-1.49,-2.13,-0.86],[223.3,-0.89,-1.53,-0.26],[225.4,-0.15,-0.79,0.48],[227.8,0.04,-0.60,0.67],[231.9,0.07,-0.57,0.70],[234.3,0.19,-0.45,0.82],[235.9,0.29,-0.35,0.92],[237,0.14,-0.50,0.77],[238.7,-0.5,-1.14,0.13],[240.6,-1.24,-1.88,-0.61],[242.2,-1.68,-2.32,-1.05],[244.1,-1.87,-2.51,-1.24],[245.5,-1.73,-2.37,-1.10],[247.3,-1.14,-1.78,-0.51],[249.3,-0.55,-1.19,0.08],[251.4,-0.38,-1.02,0.25],[255,-0.35,-0.99,0.28],[257.3,-0.28,-0.92,0.35],[259.1,-0.13,-0.77,0.50],[260.3,-0.2,-0.84,0.43],[262.1,-0.75,-1.39,-0.12],[263.9,-1.44,-2.08,-0.81],[265.6,-1.93,-2.57,-1.30],[267.4,-2.2,-2.84,-1.57],[268.9,-2.13,-2.77,-1.50],[270.6,-1.68,-2.32,-1.05],[272.7,-0.94,-1.58,-0.31],[274.9,-0.55,-1.19,0.08],[277.5,-0.45,-1.09,0.18],[279.9,-0.35,-0.99,0.28],[282.2,-0.13,-0.77,0.50],[283.6,0,-0.64,0.63],[284.8,-0.13,-0.77,0.50],[286.7,-0.8,-1.44,-0.17],[288.4,-1.34,-1.98,-0.71],[290.3,-1.73,-2.37,-1.10],[292,-1.84,-2.48,-1.21],[293.5,-1.68,-2.32,-1.05],[295.3,-1.04,-1.68,-0.41],[297.6,-0.25,-0.89,0.38],[300,0,-0.64,0.63],[302.9,0.09,-0.55,0.72],[304.7,0.19,-0.45,0.82],[306.9,0.43,-0.21,1.06],[308.3,0.39,-0.25,1.02],[310.1,-0.25,-0.89,0.38],[311.8,-0.99,-1.63,-0.36],[314,-1.44,-2.08,-0.81],[316,-1.54,-2.18,-0.91],[317.5,-1.34,-1.98,-0.71],[319.2,-0.65,-1.29,-0.02],[321.3,-0.05,-0.69,0.58],[323.6,0.14,-0.50,0.77],[326.6,0.18,-0.46,0.81],[329,0.29,-0.35,0.92],[330.7,0.51,-0.13,1.14],[332.2,0.44,-0.20,1.07],[333.7,0,-0.64,0.63],[335,-0.35,-0.99,0.28]];

// ---------------- LAYOUT ----------------
const FONT = "'DejaVu Sans', Verdana, sans-serif";
const plotLeft = 180, plotWidth = 1116, plotHeight = 300.7;
const panelTops = [242.3, 649.3, 1056.3, 1463.3];
const obsColor = "#000000";
const fcColor = "#4682b4";

const panels = [
  { title: panelTitles[0], month: monthNames[0], obs: janObs, fc: janFc, yDomain: janYDomain, yTicks: janYTicks, yFmt: "d" },
  { title: panelTitles[1], month: monthNames[1], obs: aprObs, fc: aprFc, yDomain: aprYDomain, yTicks: aprYTicks, yFmt: "d" },
  { title: panelTitles[2], month: monthNames[2], obs: julObs, fc: julFc, yDomain: julYDomain, yTicks: julYTicks, yFmt: "d" },
  { title: panelTitles[3], month: monthNames[3], obs: octObs, fc: octFc, yDomain: octYDomain, yTicks: octYTicks, yFmt: ".1f" }
];

const svg = d3.select("#chart");
svg.append("rect").attr("width", 1440).attr("height", 2016).attr("fill", "#ffffff");

panels.forEach((p, i) => {
  const g = svg.append("g").attr("transform", `translate(${plotLeft},${panelTops[i]})`);
  const x = d3.scaleLinear().domain(xDomainHours).range([0, plotWidth]);
  const y = d3.scaleLinear().domain(p.yDomain).range([plotHeight, 0]);

  const clipId = "clip" + i;
  g.append("clipPath").attr("id", clipId)
    .append("rect").attr("x", 0).attr("y", 0).attr("width", plotWidth).attr("height", plotHeight);

  // horizontal grid
  g.append("g").selectAll("line").data(p.yTicks).join("line")
    .attr("x1", 0).attr("x2", plotWidth)
    .attr("y1", d => y(d)).attr("y2", d => y(d))
    .attr("stroke", "#b0b0b0").attr("stroke-width", 0.8)
    .attr("stroke-dasharray", "1,2");

  const plot = g.append("g").attr("clip-path", `url(#${clipId})`);

  // uncertainty band
  plot.append("path").datum(p.fc)
    .attr("d", d3.area().x(d => x(d[0])).y0(d => y(d[2])).y1(d => y(d[3])).curve(d3.curveMonotoneX))
    .attr("fill", fcColor).attr("fill-opacity", 0.3)
    .attr("stroke", fcColor).attr("stroke-opacity", 0.2).attr("stroke-width", 1);

  // observations
  plot.append("path").datum(p.obs)
    .attr("d", d3.line().x(d => x(d[0])).y(d => y(d[1])).curve(d3.curveMonotoneX))
    .attr("fill", "none").attr("stroke", obsColor).attr("stroke-width", 1.5)
    .attr("stroke-linejoin", "round");

  // forecasts
  plot.append("path").datum(p.fc)
    .attr("d", d3.line().x(d => x(d[0])).y(d => y(d[1])).curve(d3.curveMonotoneX))
    .attr("fill", "none").attr("stroke", fcColor).attr("stroke-width", 3.5)
    .attr("stroke-dasharray", "11,6");

  // frame
  g.append("rect").attr("width", plotWidth).attr("height", plotHeight)
    .attr("fill", "none").attr("stroke", "#000").attr("stroke-width", 1);

  // y axis
  const ya = g.append("g").call(
    d3.axisLeft(y).tickValues(p.yTicks).tickFormat(d3.format(p.yFmt))
      .tickSize(3).tickPadding(5).tickSizeOuter(0));
  ya.select(".domain").remove();
  ya.selectAll("line").attr("stroke", "#000");
  ya.selectAll("text").attr("font-family", FONT).attr("font-size", 11).attr("fill", "#000");
  const yaBox = ya.node().getBBox();

  // x axis (day ticks)
  const xa = g.append("g").attr("transform", `translate(0,${plotHeight})`).call(
    d3.axisBottom(x).tickValues(dayTickHours).tickFormat((d, k) => dayTickLabels[k])
      .tickSize(3.5).tickPadding(4).tickSizeOuter(0));
  xa.select(".domain").remove();
  xa.selectAll("line").attr("stroke", "#000");
  xa.selectAll("text").attr("font-family", FONT).attr("font-size", 9).attr("fill", "#000");

  // first day tick gets month and year lines
  const firstText = xa.select(".tick text");
  const firstLabel = firstText.text();
  firstText.text(null).attr("dy", null);
  [firstLabel, p.month, yearLabel].forEach((t, k) => {
    firstText.append("tspan").attr("x", 0).attr("dy", k === 0 ? "0.71em" : "1.3em").text(t);
  });

  // major labels at both ends
  const majors = [[xDomainHours[0], p.month + " 01"], [xDomainHours[1], p.month + " 02"]];
  g.append("g").selectAll("text").data(majors).join("text")
    .attr("x", d => x(d[0])).attr("y", plotHeight + 17)
    .attr("text-anchor", "middle")
    .attr("font-family", FONT).attr("font-size", 12).attr("fill", "#000")
    .text(d => d[1]);

  // x-axis label
  g.append("text").attr("x", plotWidth / 2).attr("y", plotHeight + 50)
    .attr("text-anchor", "middle").attr("font-family", FONT).attr("font-size", 9.5)
    .attr("fill", "#000").text(xAxisLabel);

  // y-axis label, placed left of the tick labels
  const yLabelX = yaBox.x - 16;
  g.append("text")
    .attr("transform", `translate(${yLabelX},${plotHeight / 2}) rotate(-90)`)
    .attr("text-anchor", "middle").attr("dy", "0.35em")
    .attr("font-family", FONT).attr("font-size", 15).attr("fill", "#000")
    .text(yAxisLabel);

  // title
  g.append("text").attr("x", plotWidth / 2).attr("y", -6)
    .attr("text-anchor", "middle").attr("font-family", FONT).attr("font-size", 17.5)
    .attr("fill", "#000").text(p.title);

  // legend
  const lg = g.append("g").attr("transform", `translate(${plotWidth - 158.7},7)`);
  lg.append("rect").attr("width", 152).attr("height", 50).attr("rx", 3)
    .attr("fill", "#ffffff").attr("fill-opacity", 0.8)
    .attr("stroke", "#cccccc").attr("stroke-width", 1);
  const items = [
    { label: legendLabels[0], color: obsColor, width: 1.5, dash: null, y: 12.7 },
    { label: legendLabels[1], color: fcColor, width: 3.5, dash: "11,6", y: 35 }
  ];
  items.forEach(it => {
    lg.append("line").attr("x1", 5.4).attr("x2", 36).attr("y1", it.y).attr("y2", it.y)
      .attr("stroke", it.color).attr("stroke-width", it.width)
      .attr("stroke-dasharray", it.dash);
    lg.append("text").attr("x", 48.7).attr("y", it.y + 5)
      .attr("font-family", FONT).attr("font-size", 15).attr("fill", "#000")
      .text(it.label);
  });
});
</script>
</body>
</html>
